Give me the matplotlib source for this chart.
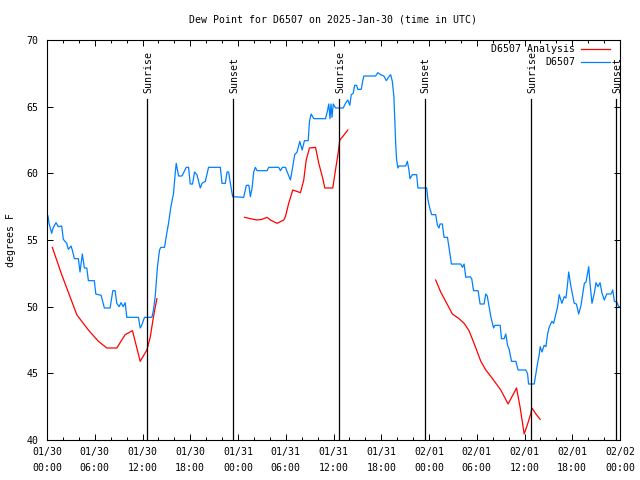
import numpy as np
import matplotlib
matplotlib.use("Agg")
import matplotlib.pyplot as plt
from matplotlib.ticker import MultipleLocator

# hours since 2025-01-30 00:00 UTC
obs_hours = [0.13, 0.25, 0.59, 0.76, 1.13, 1.42, 1.85, 2.05, 2.48, 2.68, 3.02, 3.18, 3.44, 3.94,
             4.15, 4.44, 4.70, 5.0, 5.2, 5.95, 6.13, 6.46, 6.8, 7.21, 7.93, 8.27, 8.56, 8.77,
             9.06, 9.31, 9.57, 9.82, 10.03, 10.83, 11.49, 11.71, 11.9, 12.25, 13.18, 13.38,
             13.6, 13.88, 14.14, 14.31, 14.77, 14.98, 15.27, 15.57, 15.9, 16.11, 16.24, 16.53,
             16.96, 17.5, 17.79, 18.0, 18.29, 18.54, 18.84, 19.26, 19.48, 19.89, 20.3, 21.78,
             21.99, 22.41, 22.62, 22.82, 23.04, 23.33, 24.71, 25.05, 25.37, 25.55, 25.77, 25.97,
             26.18, 26.4, 27.66, 27.86, 29.12, 29.33, 29.58, 29.96, 30.25, 30.59, 30.8, 31.13,
             31.43, 31.76, 32.06, 32.35, 32.82, 32.98, 33.19, 33.52, 35.0, 35.21, 35.41, 35.56,
             35.69, 35.81, 35.97, 36.25, 37.22, 37.51, 37.8, 38.05, 38.23, 38.48, 38.65, 38.9,
             39.06, 39.49, 39.69, 39.82, 41.29, 41.58, 41.92, 42.33, 42.64, 42.96, 43.18, 43.39,
             43.59, 43.81, 43.93, 44.1, 44.22, 45.07, 45.28, 45.48, 45.61, 45.91, 46.45, 46.61,
             47.71, 47.87, 48.09, 48.34, 48.84, 49.06, 49.26, 49.38, 49.68, 49.89, 50.32, 50.52,
             50.82, 51.99, 52.2, 52.41, 52.62, 53.16, 53.37, 53.59, 54.17, 54.42, 54.92, 55.13,
             55.32, 55.55, 55.77, 56.11, 56.27, 56.94, 57.11, 57.44, 57.65, 57.87, 58.07, 58.37,
             58.91, 59.2, 60.17, 60.39, 60.51, 61.22, 61.43, 61.64, 61.85, 61.97, 62.19, 62.47,
             62.69, 62.9, 63.1, 63.44, 63.66, 63.86, 64.16, 64.36, 64.7, 64.99, 65.21, 65.42,
             65.55, 65.84, 66.25, 66.53, 66.81, 67.1, 67.52, 67.73, 68.07, 68.23, 68.48, 68.77,
             68.99, 69.24, 69.49, 69.74, 70.03, 70.33, 70.87, 71.09, 71.29, 71.59, 71.84, 72.0]
obs_dewpt = [56.8, 56.25, 55.5, 55.9, 56.3, 56.0, 56.05, 55.05, 54.75, 54.3, 54.55, 54.25, 53.6, 53.6,
             52.6, 53.95, 52.9, 52.9, 51.95, 51.95, 50.95, 50.9, 50.85, 49.9, 49.9, 51.2, 51.2, 50.25,
             50.0, 50.3, 50.0, 50.3, 49.2, 49.2, 49.2, 48.4, 48.6, 49.2, 49.2, 49.75,
             50.8, 53.0, 54.25, 54.45, 54.45, 55.25, 56.25, 57.5, 58.5, 60.0, 60.75, 59.8,
             59.8, 60.45, 60.45, 59.2, 59.2, 60.1, 59.9, 58.9, 59.25, 59.4, 60.45, 60.45,
             59.25, 59.25, 60.1, 60.1, 59.25, 58.25, 58.2, 59.1, 59.1, 58.25, 58.9, 60.1,
             60.45, 60.2, 60.2, 60.45, 60.45, 60.2, 60.45, 60.45, 60.0, 59.5, 60.25, 61.4,
             61.6, 62.4, 61.75, 62.45, 62.45, 63.9, 64.45, 64.1, 64.1, 64.6, 65.2, 64.1,
             65.2, 64.2, 65.2, 64.9, 64.9, 65.25, 65.5, 65.1, 65.9, 66.0, 66.6, 66.6,
             66.3, 66.3, 67.0, 67.3, 67.3, 67.55, 67.4, 67.3, 66.95, 67.25, 67.4, 66.9,
             65.75, 62.25, 61.0, 60.4, 60.55, 60.55, 60.9, 60.25, 59.6, 59.9, 59.9, 58.9,
             58.9, 58.0, 57.4, 56.9, 56.9, 56.1, 55.9, 56.2, 56.2, 55.2, 55.2, 54.4,
             53.2, 53.2, 52.95, 53.2, 52.2, 52.25, 52.1, 51.2, 51.2, 50.2, 50.2, 50.95,
             50.8, 50.0, 49.25, 48.4, 48.6, 48.6, 47.6, 47.6, 47.95, 47.1, 46.8, 45.9,
             45.9, 45.25, 45.25, 44.95, 44.2, 44.2, 45.0, 45.75, 46.4, 47.0, 46.6, 47.1,
             47.0, 47.95, 48.45, 48.9, 48.75, 49.25, 50.0, 50.9, 50.25, 50.75, 50.65, 51.75,
             52.6, 51.5, 50.25, 50.2, 49.45, 50.1, 51.75, 51.85, 53.0, 51.75, 50.25, 51.0,
             51.8, 51.5, 51.8, 51.0, 50.5, 50.95, 50.95, 51.25, 50.4, 50.35, 50.0, 50.0]

ana_hours = [0.67, 1.85, 3.74, 4.37, 5.2, 6.46, 7.52, 8.77, 9.82, 10.74, 11.71, 12.55, 12.97, 13.38, 13.81,
             np.nan,
             24.84, 25.55, 26.4, 27.0, 27.66, 28.07, 28.92, 29.75, 29.96, 30.37, 30.88, 31.85, 32.26,
             32.57, 32.98, 33.74, 34.15, 34.66, 34.91, 35.91, 36.25, 36.59, 36.79, 37.22, 37.8,
             np.nan,
             48.84, 49.47, 50.94, 51.77, 52.41, 53.03, 53.66, 54.51, 55.14, 55.98, 57.02, 57.94,
             59.0, 59.45, 59.96, 60.39, 60.8, 60.93, 61.43, 61.97]
ana_dewpt = [54.45, 52.4, 49.4, 48.9, 48.25, 47.4, 46.9, 46.9, 47.9, 48.2, 45.9, 46.75, 47.7, 49.25, 50.6,
             np.nan,
             56.7, 56.6, 56.5, 56.55, 56.7, 56.5, 56.25, 56.5, 56.75, 57.75, 58.75, 58.55, 59.5,
             61.0, 61.9, 61.95, 60.75, 59.6, 58.9, 58.9, 60.25, 61.55, 62.5, 62.8, 63.25,
             np.nan,
             52.0, 51.1, 49.45, 49.1, 48.75, 48.2, 47.25, 45.9, 45.25, 44.6, 43.75, 42.7,
             43.9, 42.45, 40.45, 41.2, 42.0, 42.4, 41.95, 41.55]

sun_hours = [12.6, 23.4, 36.75, 47.5, 60.85, 71.55]
sun_labels = ["Sunrise", "Sunset", "Sunrise", "Sunset", "Sunrise", "Sunset"]

tick_hours = list(range(0, 73, 6))
tick_labels = ["01/30\n00:00", "01/30\n06:00", "01/30\n12:00", "01/30\n18:00",
               "01/31\n00:00", "01/31\n06:00", "01/31\n12:00", "01/31\n18:00",
               "02/01\n00:00", "02/01\n06:00", "02/01\n12:00", "02/01\n18:00",
               "02/02\n00:00"]

FS = 7.1
plt.rcParams['font.family'] = ['DejaVu Sans Mono']
plt.rcParams['font.size'] = FS

fig = plt.figure(figsize=(6.4, 4.8), dpi=100)
ax = fig.add_axes([47/640, 40/480, 573/640, 400/480])

l1, = ax.plot(ana_hours, ana_dewpt, color='#ff0000', lw=0.9)
l2, = ax.plot(obs_hours, obs_dewpt, color='#0080ff', lw=0.9)

for h, lab in zip(sun_hours, sun_labels):
    ax.plot([h, h], [40, 65.55], color='black', lw=0.9)
    ax.text(h + 0.1, 66.05, lab, rotation=90, ha='center', va='bottom', fontsize=FS)

ax.set_xlim(0, 72)
ax.set_ylim(40, 70)
ax.set_xticks(tick_hours)
ax.set_xticklabels(tick_labels, linespacing=1.75)
ax.xaxis.set_minor_locator(MultipleLocator(2))
ax.set_yticks(range(40, 71, 5))
ax.tick_params(which='major', direction='in', length=4.5, width=0.7, top=True, right=True, pad=5)
ax.tick_params(axis='y', which='major', pad=6)
ax.tick_params(which='minor', direction='in', length=2.2, width=0.7, top=True, right=False)
ax.tick_params(axis='y', which='minor', left=False, right=False)
for s in ax.spines.values():
    s.set_linewidth(0.8)

ax.set_ylabel("degrees F", labelpad=8)
fig.text(333/640, 1 - 20/480, "Dew Point for D6507 on 2025-Jan-30 (time in UTC)",
         ha='center', va='center', fontsize=FS)

# gnuplot style key: text right aligned, sample line to the right
for i, (txt, ln) in enumerate([("D6507 Analysis", l1), ("D6507", l2)]):
    yk = 1 - (49 + 13 * i) / 480
    fig.text(575/640, yk, txt, ha='right', va='center', fontsize=FS)
    fig.add_artist(plt.Line2D([581/640, 610/640], [yk, yk], color=ln.get_color(), lw=0.9,
                              transform=fig.transFigure))

fig.savefig("out.png", dpi=100)
